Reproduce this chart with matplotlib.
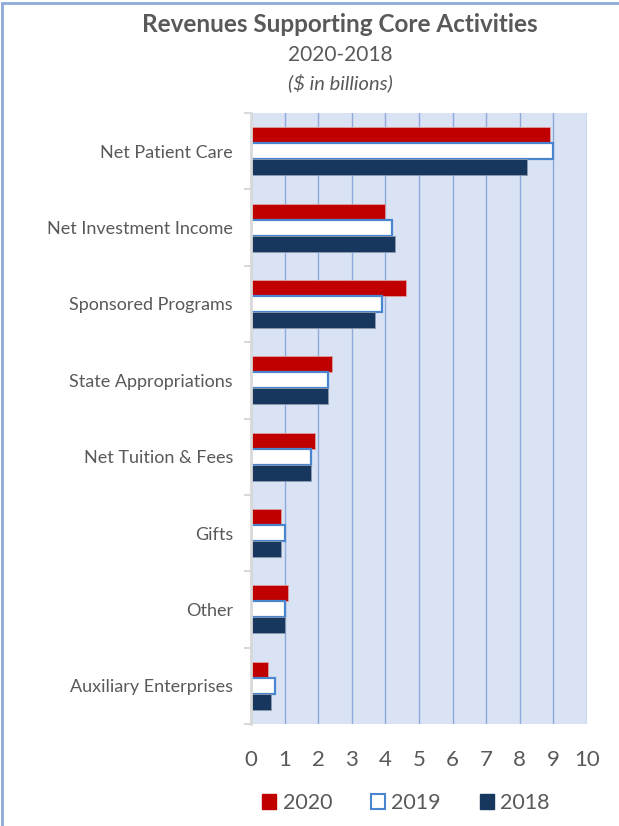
import matplotlib
matplotlib.use('Agg')
import matplotlib.pyplot as plt
from matplotlib.patches import Patch, Rectangle
import numpy as np

categories = ['Net Patient Care', 'Net Investment Income', 'Sponsored Programs',
              'State Appropriations', 'Net Tuition & Fees', 'Gifts', 'Other',
              'Auxiliary Enterprises']
rev_2020 = [8.9, 4.0, 4.6, 2.4, 1.9, 0.9, 1.1, 0.5]
rev_2019 = [9.0, 4.2, 3.9, 2.3, 1.8, 1.0, 1.0, 0.7]
rev_2018 = [8.2, 4.3, 3.7, 2.3, 1.8, 0.9, 1.0, 0.6]
x_ticks = list(range(0, 11))

plt.rcParams['font.family'] = ['Lato', 'DejaVu Sans']
grey = '#595959'
red = '#C00000'
navy = '#17375E'
blue_edge = '#4A86D0'

fig = plt.figure(figsize=(6.19, 8.26), dpi=100)
ax = fig.add_axes([251/619, 1-724/826, 336/619, 611/826])
ax.set_facecolor('#DAE3F3')

y = np.arange(len(categories))
h = 0.21
ax.barh(y - h, rev_2020, height=h, color=red, edgecolor='#D9A0A0', linewidth=0.6, zorder=3)
ax.barh(y, rev_2019, height=h, color='white', edgecolor=blue_edge, linewidth=1.6, zorder=3)
ax.barh(y + h, rev_2018, height=h, color=navy, edgecolor='#8C9BB0', linewidth=0.6, zorder=3)

ax.set_xlim(0, 10)
ax.set_ylim(len(categories) - 0.5, -0.5)
ax.set_xticks(x_ticks)
ax.set_xticklabels([str(t) for t in x_ticks], fontsize=16, color=grey)
ax.tick_params(axis='x', length=0, pad=19)
ax.set_yticks(y)
ax.set_yticklabels(categories, fontsize=13, color=grey)
ax.tick_params(axis='y', which='major', length=0, pad=13)
ax.set_yticks(np.arange(-0.5, len(categories), 1), minor=True)
ax.tick_params(axis='y', which='minor', length=5, width=1.5, color='#D9D9D9')
ax.grid(axis='x', color='#8EAADB', linewidth=1, zorder=1)
for s in ['top', 'right', 'bottom']:
    ax.spines[s].set_visible(False)
ax.spines['left'].set_color('#D9D9D9')
ax.spines['left'].set_linewidth(2)
ax.spines['left'].set_zorder(4)

fig.text(340/619, 1-25/826, 'Revenues Supporting Core Activities', ha='center', va='center',
         fontsize=17.5, fontweight='bold', color=grey)
fig.text(340/619, 1-55/826, '2020-2018', ha='center', va='center', fontsize=15, color=grey)
fig.text(340/619, 1-83/826, '($ in billions)', ha='center', va='center', fontsize=14.5,
         style='italic', color=grey)

handles = [Patch(facecolor=red, edgecolor=red),
           Patch(facecolor='white', edgecolor=blue_edge, linewidth=1.5),
           Patch(facecolor=navy, edgecolor=navy)]
fig.legend(handles, ['2020', '2019', '2018'], loc='center', bbox_to_anchor=(406/619, 1-803/826),
           ncol=3, frameon=False, fontsize=15.5, labelcolor=grey, handlelength=0.65,
           handleheight=0.65, handletextpad=0.3, columnspacing=1.8)

fig.patches.append(Rectangle((0.004, -0.01), 1.1, 1.006, transform=fig.transFigure,
                             fill=False, edgecolor='#8EAADB', linewidth=2))

fig.savefig('out.png', dpi=100)
